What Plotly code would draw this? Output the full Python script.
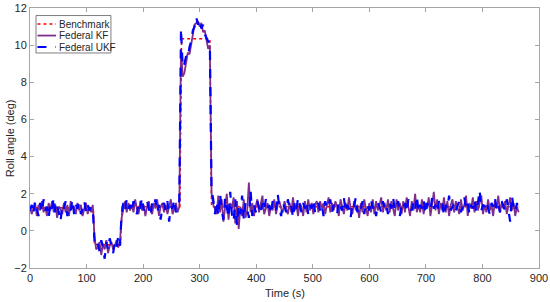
import plotly.graph_objects as go

# sampling grid of the estimated series (s)
time = list(range(0, 865, 3))

# benchmark (true roll angle), piecewise
bench_time = [0, 112, 114, 160, 163, 265, 268, 318, 321, 865]
bench_roll = [1.25, 1.25, -0.75, -0.75, 1.3, 1.3, 10.35, 10.35, 1.3, 1.3]

# Federal KF estimate (deg), one row = 30 s
kf_roll = [
    1.3, 0.9, 1.2, 1.5, 0.8, 1.4, 1.1, 1.6, 1.0, 1.3,
    0.8, 1.5, 1.1, 1.6, 1.0, 1.4, 0.7, 1.3, 1.2, 0.9,
    1.5, 1.0, 1.4, 0.8, 1.6, 1.2, 1.3, 0.9, 1.5, 1.1,
    1.4, 0.8, 1.2, 1.5, 0.9, 1.3, 1.0, 1.4, -0.3, -1.0,
    -0.9, -0.6, -1.3, -0.7, -1.0, -0.5, -1.2, -0.8, -0.6, -1.0,
    -0.8, -0.5, -0.9, -0.6, 0.7, 1.2, 1.6, 1.0, 1.5, 1.1,
    1.4, 1.0, 1.7, 1.2, 0.9, 1.6, 1.1, 1.4, 0.8, 1.3,
    1.6, 1.1, 0.9, 1.5, 1.2, 1.7, 0.8, 1.3, 1.5, 1.0,
    1.4, 0.9, 1.3, 1.7, 0.9, 1.2, 1.5, 1.0, 1.3, 9.8,
    8.3, 8.5, 9.1, 9.6, 9.5, 10.0, 10.5, 11.1, 11.2, 11.3,
    11.0, 11.2, 10.7, 10.8, 10.3, 9.8, 10.0, 2.0, 1.4, 1.2,
    0.9, 1.9, 1.0, 1.7, 0.5, 1.4, 2.0, 0.6, 1.5, 1.2,
    1.8, 0.4, 1.6, 0.1, 1.3, 0.8, 1.7, 0.7, 1.1, 2.6,
    1.0, 1.5, 0.8, 1.3, 1.7, 1.0, 1.4, 1.9, 0.9, 1.2,
    1.5, 0.8, 1.3, 1.1, 1.7, 0.9, 1.4, 1.6, 1.2, 1.0,
    1.6, 1.2, 0.9, 1.5, 1.0, 1.8, 1.1, 1.4, 0.8, 1.5,
    1.3, 0.8, 1.6, 1.0, 1.7, 1.1, 1.5, 0.9, 1.4, 1.6,
    1.0, 1.6, 1.2, 1.5, 0.9, 1.4, 1.8, 1.0, 1.5, 1.1,
    1.6, 1.3, 0.8, 1.7, 1.2, 0.9, 1.5, 1.1, 1.8, 1.2,
    0.9, 1.6, 1.1, 1.4, 0.7, 1.5, 1.0, 1.7, 1.2, 0.8,
    1.5, 1.0, 1.7, 0.9, 1.6, 1.1, 1.4, 1.8, 1.0, 1.5,
    1.1, 1.7, 1.0, 1.6, 1.2, 0.8, 1.7, 1.1, 1.5, 0.9,
    1.6, 1.0, 1.8, 1.2, 0.8, 1.6, 1.1, 2.0, 1.0, 1.4,
    1.0, 1.7, 0.9, 1.5, 1.2, 1.8, 0.8, 1.4, 2.1, 1.1,
    1.7, 0.9, 1.5, 1.1, 1.8, 1.0, 1.6, 0.8, 1.4, 1.7,
    1.0, 1.6, 1.2, 0.9, 1.7, 1.1, 1.4, 1.9, 0.8, 1.5,
    1.2, 1.8, 1.0, 1.6, 1.1, 1.5, 1.9, 0.9, 1.4, 1.0,
    1.7, 1.1, 1.4, 0.8, 1.6, 1.2, 1.9, 1.0, 1.5, 1.2,
    1.6, 0.9, 1.4, 1.8, 1.1, 1.5, 0.8, 1.3, 1.0,
]

# Federal UKF estimate (deg)
ukf_roll = [
    1.1, 1.4, 0.9, 1.6, 1.2, 0.8, 1.5, 1.0, 1.7, 1.1,
    1.3, 0.7, 1.5, 1.2, 1.8, 0.9, 1.3, 1.0, 0.5, 1.4,
    1.2, 1.6, 0.8, 1.3, 1.1, 1.7, 0.9, 1.4, 1.2, 1.5,
    0.9, 1.3, 1.6, 1.0, 1.4, 1.1, 1.3, 1.2, -0.5, -0.9,
    -0.7, -1.1, -0.5, -0.9, -1.5, -0.6, -1.0, -0.4, -0.8, -1.2,
    -0.6, -0.9, -0.3, -0.8, 0.9, 1.5, 1.1, 1.7, 1.2, 1.4,
    1.0, 1.6, 1.3, 0.9, 1.5, 1.2, 1.8, 1.1, 1.4, 1.6,
    1.2, 0.8, 1.5, 1.3, 1.7, 1.0, 1.4, 0.6, 1.3, 1.5,
    1.1, 1.6, 0.5, 1.3, 1.2, 1.7, 1.0, 1.4, 1.6, 10.9,
    8.8, 9.0, 9.4, 9.3, 9.9, 10.2, 10.8, 11.0, 11.5, 11.1,
    11.4, 10.9, 11.1, 10.6, 10.4, 10.2, 10.1, 2.2, 1.7, 0.9,
    1.6, 0.8, 2.0, 1.1, 0.6, 1.8, 1.3, 0.7, 2.1, 0.9,
    0.5, 1.7, 0.3, 1.4, 0.9, 1.9, 0.6, 1.5, 1.2, 0.7,
    2.2, 0.8, 1.4, 1.0, 1.6, 1.3, 0.9, 1.5, 1.1, 1.7,
    1.2, 1.4, 0.9, 1.6, 1.3, 1.1, 2.0, 1.2, 0.8, 1.5,
    1.3, 1.0, 1.7, 1.2, 1.4, 0.7, 1.5, 1.1, 1.8, 1.3,
    1.0, 1.5, 1.2, 1.6, 0.9, 1.4, 1.2, 1.7, 1.0, 1.3,
    1.5, 1.1, 1.4, 0.8, 1.6, 1.2, 1.3, 1.7, 1.0, 1.4,
    1.2, 0.9, 1.6, 1.3, 1.1, 1.8, 1.0, 1.4, 1.2, 0.7,
    1.5, 1.3, 1.8, 1.0, 1.4, 1.2, 1.6, 0.9, 1.5, 1.3,
    1.1, 1.7, 1.2, 1.4, 0.8, 1.5, 1.3, 1.0, 1.6, 1.2,
    1.4, 0.9, 1.5, 1.2, 1.8, 1.1, 1.3, 1.6, 0.8, 1.4,
    1.2, 1.5, 1.0, 1.7, 1.3, 1.1, 1.6, 1.2, 1.9, 1.0,
    1.4, 1.2, 1.7, 0.9, 1.5, 1.3, 1.1, 1.8, 1.2, 1.4,
    1.0, 1.6, 1.3, 1.5, 0.8, 1.4, 1.2, 1.9, 1.1, 1.3,
    1.5, 1.1, 1.4, 1.6, 1.0, 1.3, 1.8, 1.2, 1.5, 0.9,
    1.4, 1.2, 1.7, 1.0, 1.5, 2.2, 1.1, 1.4, 1.3, 1.6,
    1.2, 0.9, 1.5, 1.3, 1.8, 1.1, 1.4, 1.0, 1.6, 1.3,
    1.1, 1.7, 1.2, 0.5, 1.9, 1.3, 1.0, 1.5, 0.9,
]

series_names = ['Benchmark', 'Federal KF', 'Federal UKF']
series_colors = ['#FF0000', '#7E2F8E', '#0000FF']
series_dash = ['dot', 'solid', 'dash']
series_width = [1.5, 1.8, 2.2]

fig = go.Figure()
fig.add_trace(go.Scatter(x=bench_time, y=bench_roll, mode='lines', name=series_names[0],
                         line=dict(color=series_colors[0], width=series_width[0], dash=series_dash[0])))
fig.add_trace(go.Scatter(x=time, y=kf_roll, mode='lines', name=series_names[1],
                         line=dict(color=series_colors[1], width=series_width[1], dash=series_dash[1])))
fig.add_trace(go.Scatter(x=time, y=ukf_roll, mode='lines', name=series_names[2],
                         line=dict(color=series_colors[2], width=series_width[2], dash=series_dash[2])))

axis_style = dict(showline=True, linecolor='#a6a6a6', linewidth=1, mirror='ticks',
                  ticks='inside', ticklen=4, tickcolor='#a6a6a6',
                  showgrid=False, zeroline=False, automargin=False,
                  tickfont=dict(size=11, color='#262626'))

fig.update_layout(
    width=550, height=302,
    margin=dict(l=30, r=11, t=8, b=34),
    plot_bgcolor='white', paper_bgcolor='white',
    font=dict(family='Liberation Sans, Arial, sans-serif', size=11, color='#262626'),
    xaxis=dict(range=[0, 900], tickvals=list(range(0, 901, 100)), **axis_style),
    yaxis=dict(range=[-2, 12], tickvals=list(range(-2, 13, 2)), **axis_style),
    showlegend=False,
)

# axis titles placed by hand so the plot area keeps its size
fig.add_annotation(text='Time (s)', xref='paper', yref='paper', x=0.5, y=-0.096,
                   xanchor='center', yanchor='middle', showarrow=False,
                   font=dict(size=11, color='#262626'))
fig.add_annotation(text='Roll angle (deg)', xref='paper', yref='paper', x=-0.039, y=0.5,
                   xanchor='center', yanchor='middle', textangle=-90, showarrow=False,
                   font=dict(size=11, color='#262626'))

# compact MATLAB-like legend box
fig.add_shape(type='rect', xref='paper', yref='paper', x0=0.0118, x1=0.159, y0=0.827, y1=0.971,
              line=dict(color='#262626', width=0.6), fillcolor='white', layer='above')
for name, color, dash, width, ly in zip(series_names, series_colors, series_dash, series_width,
                                        [0.938, 0.894, 0.850]):
    fig.add_shape(type='line', xref='paper', yref='paper', x0=0.0147, x1=0.051, y0=ly, y1=ly,
                  line=dict(color=color, width=min(width, 1.8), dash=dash), layer='above')
    fig.add_annotation(text=name, xref='paper', yref='paper', x=0.053, y=ly,
                       xanchor='left', yanchor='middle', showarrow=False,
                       font=dict(size=10, color='#262626'))

fig.write_html("out.html", config={'displayModeBar': False},
               post_script="document.body.style.margin='0';")
